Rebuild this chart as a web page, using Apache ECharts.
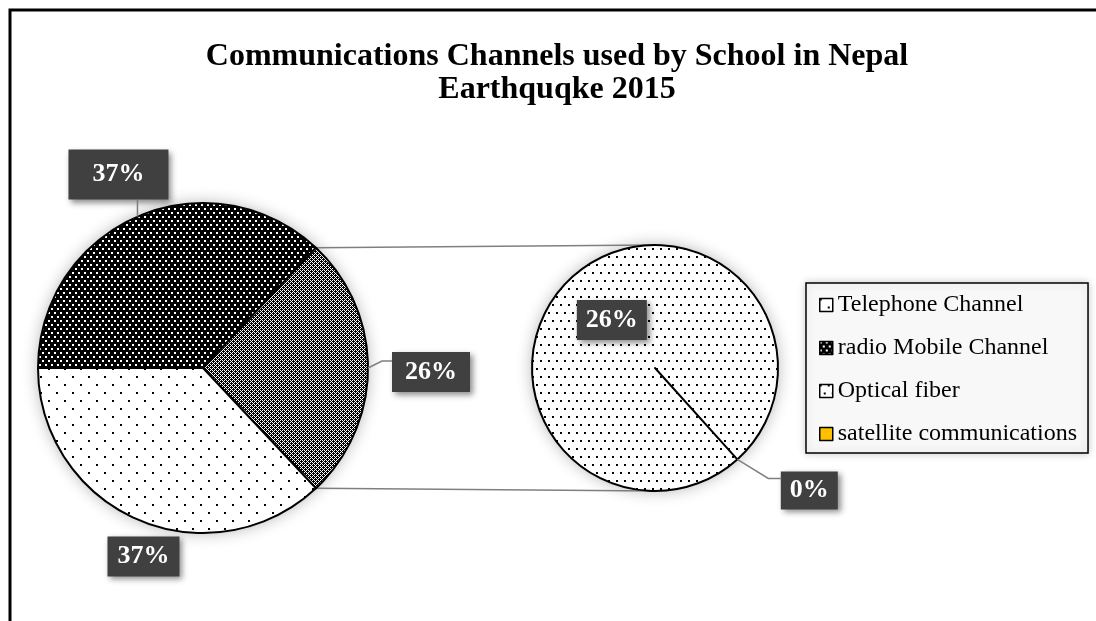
<!DOCTYPE html>
<html><head><meta charset="utf-8">
<script src="https://cdn.jsdelivr.net/npm/echarts@6/dist/echarts.min.js"></script>
<style>html,body{margin:0;padding:0;background:#fff}#chart{width:1096px;height:621px}</style>
</head><body><div id="chart"></div>
<script>
// ---- data ----
const titleLines = ['Communications Channels used by School in Nepal', 'Earthquqke 2015'];
const primaryNames = ['Telephone Channel', 'radio Mobile Channel'];
const primaryValues = [37, 37];
const secondaryNames = ['Optical fiber', 'satellite communications'];
const secondaryValues = [26, 0];
const otherName = 'Other';
const legendNames = ['Telephone Channel', 'radio Mobile Channel', 'Optical fiber', 'satellite communications'];

// ---- layout / style ----
const MAIN = {cx: 203, cy: 368, r: 165, start: 180};
const SEC = {cx: 655, cy: 368, r: 123, start: -48};
const FONT = 'Liberation Serif';

function pat(w, h, bg, fg, dots, ds) {
  const c = document.createElement('canvas'); c.width = w; c.height = h;
  const g = c.getContext('2d'); g.fillStyle = bg; g.fillRect(0, 0, w, h); g.fillStyle = fg;
  dots.forEach(p => g.fillRect(p[0], p[1], ds, ds));
  return {image: c, repeat: 'repeat'};
}
const checkDots = [];
for (let y = 0; y < 4; y++) for (let x = 0; x < 4; x++) {
  if ((x + y) % 2 === 0 && !(x === 1 && y === 1) && !(x === 3 && y === 3)) checkDots.push([x, y]);
}
const fills = {
  'Telephone Channel': pat(16, 16, '#fff', '#000', [[0, 0], [8, 8]], 2),
  'radio Mobile Channel': pat(6, 8, '#000', '#fff', [[0, 0], [3, 4]], 2),
  'Other': pat(4, 4, '#000', '#fff', checkDots, 1),
  'Optical fiber': pat(8, 16, '#fff', '#000', [[0, 0], [4, 8]], 2),
  'satellite communications': '#FFC000'
};
const placement = {
  'radio Mobile Channel': {dx: -19, dy: -42, pad: [12, 24], leader: [[0, 0], [0, -17]]},
  'Other': {dx: 63, dy: 4, pad: [7, 13], leader: [[0, 0], [14, -7], [24, -7]]},
  'Telephone Channel': {dx: 6, dy: 37, pad: [7, 10]},
  'satellite communications': {dx: 72, dy: 31, pad: [6, 9], leader: [[0, 0], [31, 19], [44, 19]]},
  'Optical fiber': {inside: true, pad: [7, 9]}
};

// ---- build ----
const otherValue = secondaryValues.reduce((a, b) => a + b, 0);
const mainItems = [
  {name: primaryNames[1], value: primaryValues[1]},
  {name: otherName, value: otherValue},
  {name: primaryNames[0], value: primaryValues[0]}
];
const secItems = secondaryNames.map((n, i) => ({name: n, value: secondaryValues[i]}));

function geometry(items, P) {
  const total = items.reduce((a, b) => a + b.value, 0);
  let a = P.start;
  return items.map(it => {
    const span = it.value / total * 360;
    const mid = a - span / 2; a -= span;
    const rad = mid * Math.PI / 180;
    return {name: it.name, mid, e: [P.cx + P.r * Math.cos(rad), P.cy - P.r * Math.sin(rad)]};
  });
}
const mainGeo = geometry(mainItems, MAIN);
const secGeo = geometry(secItems, SEC);
const geoByName = {};
mainGeo.concat(secGeo).forEach(g => { geoByName[g.name] = g; });

const labelBase = {
  show: true, color: '#fff', fontFamily: FONT, fontWeight: 'bold', fontSize: 26, lineHeight: 26,
  backgroundColor: '#404040', shadowColor: 'rgba(0,0,0,0.45)', shadowBlur: 6, shadowOffsetX: 3, shadowOffsetY: 3,
  formatter: '{c}%'
};
function toData(items) {
  return items.map(it => {
    const pl = placement[it.name];
    return {
      name: it.name, value: it.value,
      itemStyle: {color: fills[it.name]},
      label: Object.assign({}, labelBase, {padding: pl.pad, position: pl.inside ? 'inside' : 'outside'})
    };
  });
}
function labelLayout(params) {
  const items = params.seriesIndex === 0 ? mainItems : secItems;
  const name = items[params.dataIndex].name;
  const pl = placement[name];
  if (pl.inside) return {};
  const g = geoByName[name];
  return {x: g.e[0] + pl.dx, y: g.e[1] + pl.dy, align: 'center', verticalAlign: 'middle'};
}

const graphics = [];
graphics.push({type: 'rect', z: 0, silent: true, shape: {x: 10, y: 10, width: 1300, height: 900},
  style: {fill: null, stroke: '#000', lineWidth: 3}});
[MAIN, SEC].forEach(P => graphics.push({type: 'circle', z: 0, silent: true,
  shape: {cx: P.cx, cy: P.cy, r: P.r}, style: {fill: '#fff', shadowBlur: 16, shadowColor: 'rgba(0,0,0,0.3)'}}));
const half = otherValue / mainItems.reduce((a, b) => a + b.value, 0) * 180 * Math.PI / 180;
[1, -1].forEach(s => {
  graphics.push({type: 'line', z: 1, silent: true,
    shape: {x1: MAIN.cx + MAIN.r * Math.cos(half), y1: MAIN.cy - s * MAIN.r * Math.sin(half),
            x2: SEC.cx, y2: SEC.cy - s * SEC.r},
    style: {stroke: '#7f7f7f', lineWidth: 1.5}});
});
Object.keys(placement).forEach(name => {
  const pl = placement[name];
  if (!pl.leader) return;
  const g = geoByName[name];
  graphics.push({type: 'polyline', z: 5, silent: true,
    shape: {points: pl.leader.map(p => [g.e[0] + p[0], g.e[1] + p[1]])},
    style: {stroke: '#7f7f7f', lineWidth: 1.5, fill: null}});
});

const chart = echarts.init(document.getElementById('chart'), null, {renderer: 'canvas'});
chart.setOption({
  animation: false,
  backgroundColor: '#fff',
  title: {
    text: titleLines.join('\n'), left: 557, top: 40, textAlign: 'center', padding: 0,
    textStyle: {fontFamily: FONT, fontWeight: 'bold', fontSize: 32, lineHeight: 33, color: '#000'}
  },
  legend: {
    orient: 'vertical', left: 806, top: 283, data: legendNames,
    icon: 'rect', itemWidth: 13, itemHeight: 13, itemGap: 17,
    padding: [9, 11, 6, 13],
    backgroundColor: '#f8f8f8', borderColor: '#000', borderWidth: 1.5,
    shadowBlur: 8, shadowColor: 'rgba(0,0,0,0.2)',
    textStyle: {fontFamily: FONT, fontSize: 24, color: '#000', lineHeight: 26},
    itemStyle: {borderColor: '#000', borderWidth: 1.5},
    selectedMode: false
  },
  graphic: {elements: graphics},
  series: [
    {type: 'pie', center: [MAIN.cx, MAIN.cy], radius: MAIN.r, startAngle: MAIN.start, clockwise: true,
     avoidLabelOverlap: false, silent: true, data: toData(mainItems),
     itemStyle: {borderColor: '#000', borderWidth: 2},
     labelLine: {show: false}, labelLayout: labelLayout},
    {type: 'pie', center: [SEC.cx, SEC.cy], radius: SEC.r, startAngle: SEC.start, clockwise: true,
     avoidLabelOverlap: false, silent: true, data: toData(secItems),
     itemStyle: {borderColor: '#000', borderWidth: 2},
     labelLine: {show: false}, labelLayout: labelLayout}
  ]
});
</script></body></html>
